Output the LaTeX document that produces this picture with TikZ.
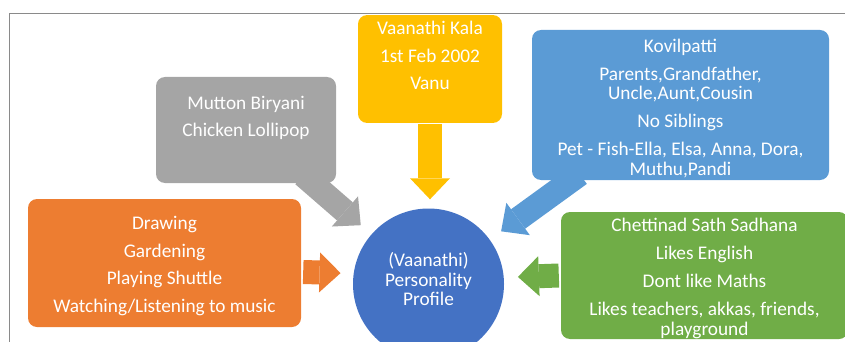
\documentclass[tikz,border=0pt]{standalone}
\usepackage{fontspec}
\setmainfont{Carlito}
\usetikzlibrary{arrows.meta}
\usetikzlibrary{backgrounds}

\definecolor{boxyellow}{HTML}{FFC000}
\definecolor{boxgray}{HTML}{A5A5A5}
\definecolor{boxblue}{HTML}{5B9BD5}
\definecolor{boxorange}{HTML}{ED7D31}
\definecolor{boxgreen}{HTML}{70AD47}
\definecolor{circblue}{HTML}{4472C4}
\definecolor{framegray}{HTML}{8A8A8A}

% extra room above the first line / below the last line
\newcommand{\toprow}{\rule{0pt}{19.5pt}}
\newcommand{\lowrow}{\rule[-10pt]{0pt}{10pt}}

\begin{document}
\begin{tikzpicture}
      [x=1pt,y=-1pt,
       box/.style={rounded corners=9pt,text=white,align=center,inner sep=0pt,
                   font=\fontsize{19.3}{19.5}\selectfont},
       blockarrow/.style={line width=24pt,-{Triangle[width=40pt,length=21pt,line width=0pt]},shorten >=14pt}]

  \useasboundingbox (0,0) rectangle (845,342);
  \clip (0,0) rectangle (845,342);

%frame
  \draw[color=framegray,line width=1pt] (9,342) -- (9,14) -- (845,14);

%the boxes round the profile
  \node[box,fill=boxyellow,minimum width=144pt,minimum height=106pt] (info) at (430,69)
    {\toprow Vaanathi Kala\\[8pt]1st Feb 2002\\[8pt]Vanu\\[8pt]\strut};
  \node[box,fill=boxgray,minimum width=180pt,minimum height=106pt] (food) at (246,130)
    {\toprow Mutton Biryani\\[8pt]Chicken Lollipop\\[8pt]\strut};
  \node[box,fill=boxblue,minimum width=297pt,minimum height=150pt] (family) at (680.5,105)
    {\toprow Kovilpatti\\[8.5pt]Parents,Grandfather,\\Uncle,Aunt,Cousin\\[8.5pt]No Siblings\\[8.5pt]Pet - Fish-Ella, Elsa, Anna, Dora,\\Muthu,Pandi};
  \node[box,fill=boxorange,minimum width=273pt,minimum height=128pt] (hobby) at (164.5,263)
    {\toprow Drawing\\[8pt]Gardening\\[8pt]Playing Shuttle\\[8pt]Watching/Listening to music};
  \node[box,fill=boxgreen,minimum width=287pt,minimum height=127pt] (school) at (704.5,275.5)
    {\toprow Chettinad Sath Sadhana\\[8.5pt]Likes English\\[8.5pt]Dont like Maths\\[8.5pt]Likes teachers, akkas, friends,\\playground};

%centre
  \node[box,circle,fill=circblue,minimum size=151pt] (profile) at (428.5,284)
    {(Vaanathi)\\Personality\\Profile\lowrow};

%block arrows
  \draw[blockarrow,color=boxyellow,shorten >=9pt] ([yshift=-1pt]info.south) -- (info.south |- profile.north);
  \begin{pgfonlayer}{background}
   \draw[blockarrow,color=boxgray] ([xshift=-33pt,yshift=8pt]food.south east) -- (profile);
   \draw[blockarrow,color=boxblue] ([xshift=48pt,yshift=6pt]family.south west) -- (profile);
  \end{pgfonlayer}
  \draw[blockarrow,color=boxorange,shorten >=13pt] ([xshift=2pt,yshift=-9pt]hobby.east) -- (profile.172);
  \draw[blockarrow,color=boxgreen] ([xshift=-2pt]school.west) -- (profile.5);

\end{tikzpicture}
\end{document}
